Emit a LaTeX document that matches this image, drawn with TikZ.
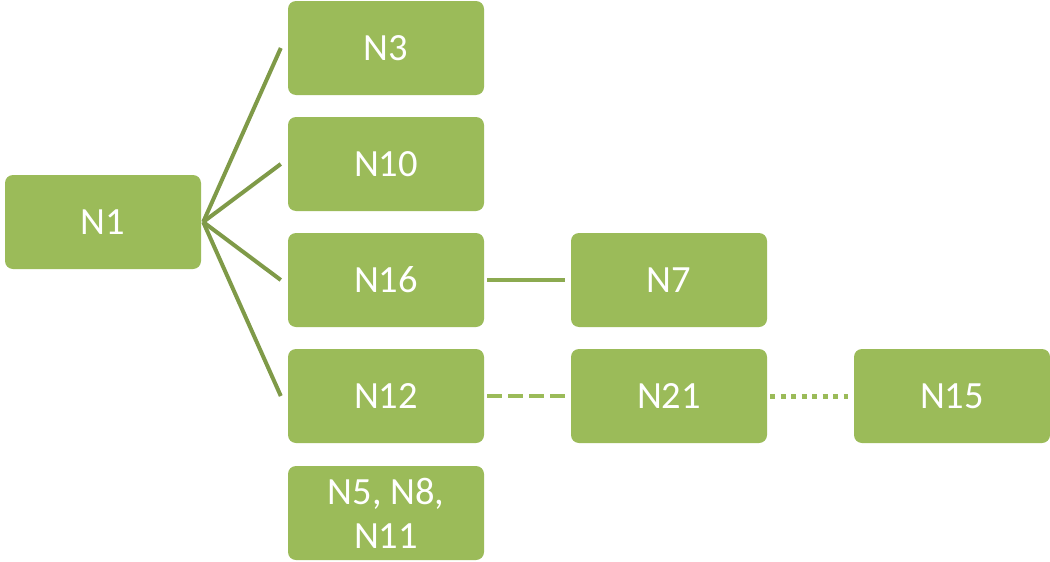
\documentclass[tikz,border=0pt]{standalone}
\usepackage{fontspec}
\setmainfont{Carlito}
\definecolor{boxgreen}{HTML}{9BBB59}
\definecolor{linkdark}{HTML}{7F9A48}
\definecolor{linkmid}{HTML}{8CAA50}
\begin{document}
\begin{tikzpicture}[x=1pt,y=1pt,
  box/.style={rectangle, rounded corners=8pt, fill=boxgreen, draw=none,
    minimum width=196pt, minimum height=94pt, text=white, align=center,
    font=\fontsize{38.5}{44}\selectfont, inner sep=0pt},
  fan/.style={draw=linkdark, line width=4pt},
  solidlink/.style={draw=linkmid, line width=4pt},
  dashlink/.style={draw=boxgreen, line width=4pt, dash pattern=on 15pt off 6pt},
  dotlink/.style={draw=boxgreen, line width=5pt, dash pattern=on 5pt off 5.5pt}]
\useasboundingbox (0,0) rectangle (1050,-562);
\node[box] (N1) at (103,-222) {N1};
\node[box] (N3) at (386,-48) {N3};
\node[box] (N10) at (386,-164) {N10};
\node[box] (N16) at (386,-280) {N16};
\node[box] (N12) at (386,-396) {N12};
\node[box] (N5) at (386,-513) {N5, N8,\\N11};
\node[box] (N7) at (669,-280) {N7};
\node[box] (N21) at (669,-396) {N21};
\node[box] (N15) at (952,-396) {N15};
\draw[fan] ([xshift=2pt]N1.east) -- ([xshift=-7pt]N3.west);
\draw[fan] ([xshift=2pt]N1.east) -- ([xshift=-7pt]N10.west);
\draw[fan] ([xshift=2pt]N1.east) -- ([xshift=-7pt]N16.west);
\draw[fan] ([xshift=2pt]N1.east) -- ([xshift=-7pt]N12.west);
\draw[solidlink] ([xshift=3pt]N16.east) -- ([xshift=-6pt]N7.west);
\draw[dashlink] ([xshift=3pt]N12.east) -- ([xshift=-6pt]N21.west);
\draw[dotlink] ([xshift=3pt]N21.east) -- ([xshift=-6pt]N15.west);
\end{tikzpicture}
\end{document}
